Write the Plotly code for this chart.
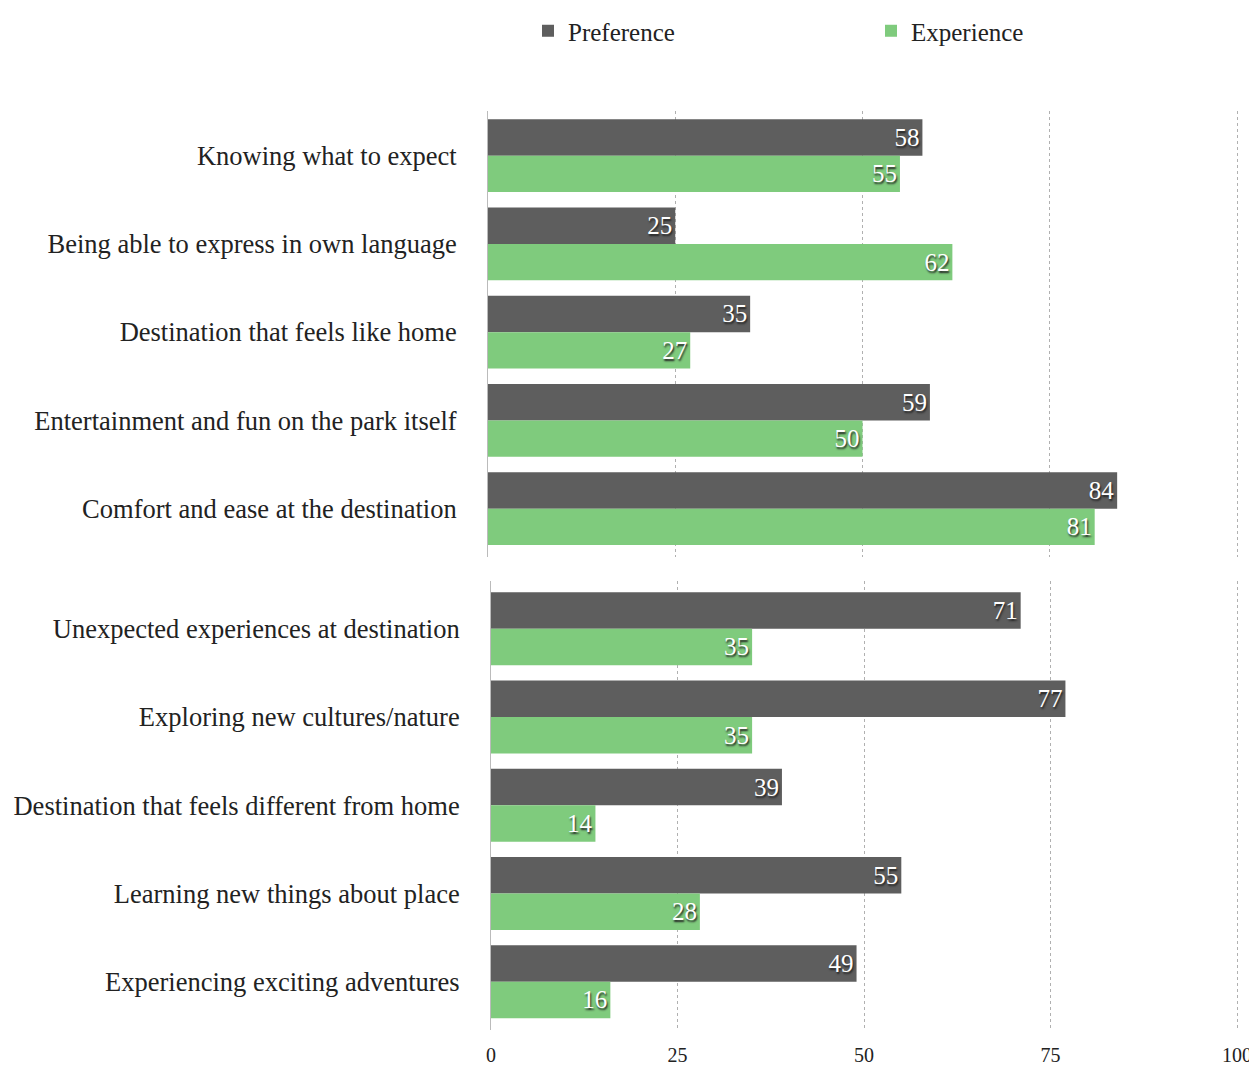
import plotly.graph_objects as go

top_categories = [
    "Knowing what to expect",
    "Being able to express in own language",
    "Destination that feels like home",
    "Entertainment and fun on the park itself",
    "Comfort and ease at the destination",
]
top_preference = [58, 25, 35, 59, 84]
top_experience = [55, 62, 27, 50, 81]

bottom_categories = [
    "Unexpected experiences at destination",
    "Exploring new cultures/nature",
    "Destination that feels different from home",
    "Learning new things about place",
    "Experiencing exciting adventures",
]
bottom_preference = [71, 77, 39, 55, 49]
bottom_experience = [35, 35, 14, 28, 16]

x_ticks = [0, 25, 50, 75, 100]

DARK = "#5e5e5e"
GREEN = "#7fcb7d"
FONT = "Liberation Serif"
W, H = 1249, 1060

def bar(x, y, name, color, xa, ya, show):
    return go.Bar(
        x=x, y=y, name=name, orientation="h",
        marker=dict(color=color, line=dict(width=0)),
        text=[str(v) for v in x], textposition="inside",
        insidetextanchor="end", constraintext="none",
        textfont=dict(family=FONT, size=25, color="white",
                      shadow="1px 2px 2px #222"),
        xaxis=xa, yaxis=ya, showlegend=show, legendgroup=name,
        hoverinfo="x+y+name",
    )

fig = go.Figure()
fig.add_trace(bar(top_preference, top_categories, "Preference", DARK, "x", "y", True))
fig.add_trace(bar(top_experience, top_categories, "Experience", GREEN, "x", "y", True))
fig.add_trace(bar(bottom_preference, bottom_categories, "Preference", DARK, "x2", "y2", False))
fig.add_trace(bar(bottom_experience, bottom_categories, "Experience", GREEN, "x2", "y2", False))

grid = dict(range=[0, 100.4], tickvals=x_ticks, showgrid=True, gridcolor="#b0b0b0",
            griddash="dot", gridwidth=1, zeroline=False, fixedrange=True)

ylab = dict(showline=True, linecolor="#bbbbbb", linewidth=1, type="category",
            ticks="", ticklabelstandoff=25, automargin=False,
            tickfont=dict(family=FONT, size=26.5, color="#222"))

fig.update_layout(
    width=W, height=H,
    margin=dict(l=0, r=0, t=0, b=0),
    paper_bgcolor="white", plot_bgcolor="white",
    barmode="group", bargap=0.175, bargroupgap=0,
    font=dict(family=FONT, size=22, color="#222"),
    showlegend=True,
    legend=dict(orientation="h", x=520 / W, y=1 + 3 / H, xanchor="left", yanchor="top",
                font=dict(family=FONT, size=25, color="#222"), entrywidth=298,
                traceorder="normal"),
    xaxis=dict(domain=[480 / W, 1232 / W], anchor="y", showticklabels=False, **grid),
    yaxis=dict(domain=[1 - 548 / H, 1 - 100 / H], anchor="x", range=[4.553, -0.509], **ylab),
    xaxis2=dict(domain=[483 / W, 1232 / W], anchor="y2", showticklabels=True,
                tickfont=dict(family=FONT, size=20, color="#222"),
                ticklabelstandoff=11, automargin=False, **grid),
    yaxis2=dict(domain=[1 - 1022 / H, 1 - 572 / H], anchor="x2", range=[4.548, -0.537], **ylab),
)

fig.write_html("out.html")
